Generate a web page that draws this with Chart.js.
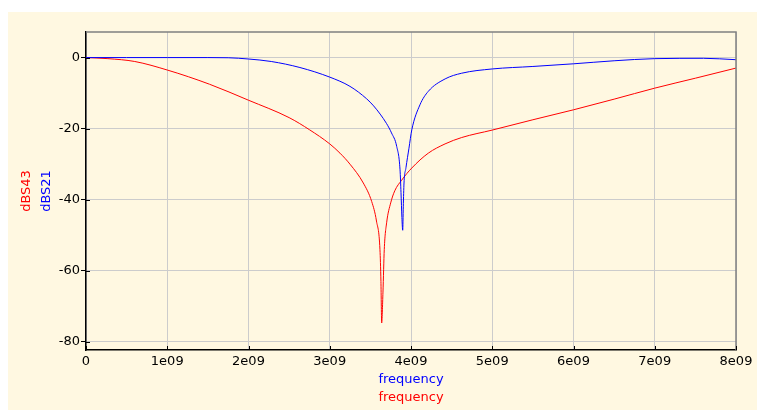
<!DOCTYPE html>
<html>
<head>
<meta charset="utf-8">
<script src="https://cdn.jsdelivr.net/npm/chart.js@4"></script>
<style>
    body { margin: 0; background: #ffffff; }
    #panel { position: absolute; left: 8px; top: 12px; width: 749px; height: 398px; background: #fff8e1; }
</style>
</head>
<body>
<div id="panel"><canvas id="myChart" width="749" height="398"></canvas></div>
<script>
// values, frequency in Hz, level in dB
const freqS21 = [0, 0.5e9, 1.0e9, 1.5e9, 1.75e9, 2.0e9, 2.28e9, 2.633e9, 3.0e9, 3.249e9, 3.454e9, 3.54e9,
    3.62e9, 3.70e9, 3.76e9, 3.824e9, 3.865e9, 3.877e9, 3.888e9, 3.898e9, 3.905e9, 3.914e9, 3.938e9, 3.975e9,
    4.01e9, 4.11e9, 4.213e9, 4.42e9, 4.624e9, 5.0e9, 5.5e9, 6.0e9, 6.5e9, 7.0e9, 7.6e9, 8.0e9];
const dbS21 = [0, 0, 0, 0, -0.05, -0.4, -1.1, -2.8, -5.5, -8.1, -11.6, -13.6,
    -15.9, -18.6, -21.2, -25.0, -31.6, -38.0, -45.0, -48.6, -42.0, -35.3, -31.0, -25.5,
    -20.3, -13.3, -9.5, -6.0, -4.4, -3.2, -2.5, -1.75, -0.9, -0.3, -0.2, -0.6];

const freqS43 = [0, 0.27e9, 0.6e9, 1.0e9, 1.52e9, 2.0e9, 2.5e9, 2.75e9, 3.0e9, 3.126e9, 3.249e9, 3.413e9,
    3.516e9, 3.575e9, 3.618e9, 3.630e9, 3.639e9, 3.655e9, 3.671e9, 3.70e9, 3.75e9, 3.80e9, 3.885e9,
    4.009e9, 4.213e9, 4.419e9, 4.624e9, 5.0e9, 5.5e9, 6.0e9, 6.5e9, 7.0e9, 7.5e9, 8.0e9];
const dbS43 = [0, -0.3, -1.1, -3.5, -7.5, -12.0, -16.9, -20.3, -24.3, -26.9, -30.0, -35.3,
    -40.5, -46.0, -54.1, -63.0, -74.7, -66.0, -54.0, -46.5, -40.9, -37.5, -34.5,
    -31.1, -26.9, -24.3, -22.5, -20.4, -17.5, -14.7, -11.7, -8.6, -5.8, -2.95];

const xTicks = [0, 1e9, 2e9, 3e9, 4e9, 5e9, 6e9, 7e9, 8e9];
const xTickLabels = ['0', '1e09', '2e09', '3e09', '4e09', '5e09', '6e09', '7e09', '8e09'];
const yTicks = [0, -20, -40, -60, -80];

const blue = '#0000ff';
const red = '#ff0000';
const font = { family: 'DejaVu Sans', size: 13 };

function toPoints(xs, ys) {
    let pts = [];
    for (let i = 0; i < xs.length; i++) {
        pts.push({ x: xs[i], y: ys[i] });
    }
    return pts;
}

const framePlugin = {
    id: 'frame',
    afterDraw(chart) {
        const ctx = chart.ctx;
        const a = chart.chartArea;
        const xs = chart.scales.x;
        const ys = chart.scales.y;
        ctx.save();
        // grey top and right edges
        ctx.strokeStyle = '#808080';
        ctx.lineWidth = 1.5;
        ctx.beginPath();
        ctx.moveTo(a.left, a.top);
        ctx.lineTo(a.right, a.top);
        ctx.lineTo(a.right, a.bottom);
        ctx.stroke();
        // small inner ticks
        ctx.strokeStyle = '#000000';
        ctx.lineWidth = 1;
        ctx.beginPath();
        xTicks.forEach(function (v) {
            const px = Math.round(xs.getPixelForValue(v)) + 0.5;
            ctx.moveTo(px, a.bottom);
            ctx.lineTo(px, a.bottom - 4);
        });
        yTicks.forEach(function (v) {
            const py = Math.round(ys.getPixelForValue(v)) + 0.5;
            ctx.moveTo(a.left, py);
            ctx.lineTo(a.left + 4, py);
        });
        ctx.stroke();
        // axis titles, one per curve
        ctx.font = '13px "DejaVu Sans"';
        ctx.textAlign = 'center';
        ctx.textBaseline = 'middle';
        const cx = (a.left + a.right) / 2;
        ctx.fillStyle = blue;
        ctx.fillText('frequency', cx, a.bottom + 30);
        ctx.fillStyle = red;
        ctx.fillText('frequency', cx, a.bottom + 48);
        const cy = (a.top + a.bottom) / 2;
        ctx.translate(0, cy);
        ctx.rotate(-Math.PI / 2);
        ctx.fillStyle = red;
        ctx.fillText('dBS43', 0, 19);
        ctx.fillStyle = blue;
        ctx.fillText('dBS21', 0, 38.5);
        ctx.restore();
    }
};

const data = {
    datasets: [
        {
            label: 'dBS21',
            data: toPoints(freqS21, dbS21),
            borderColor: blue,
            borderWidth: 1,
            pointRadius: 0,
            cubicInterpolationMode: 'monotone'
        },
        {
            label: 'dBS43',
            data: toPoints(freqS43, dbS43),
            borderColor: red,
            borderWidth: 1,
            pointRadius: 0,
            cubicInterpolationMode: 'monotone'
        }
    ]
};

const config = {
    type: 'line',
    data: data,
    options: {
        responsive: false,
        animation: false,
        devicePixelRatio: 1,
        layout: { padding: { left: 0, right: 21, top: 20, bottom: 0 } },
        plugins: {
            legend: { display: false },
            tooltip: { enabled: false }
        },
        scales: {
            x: {
                type: 'linear',
                min: 0,
                max: 8e9,
                afterBuildTicks: function (scale) {
                    scale.ticks = xTicks.map(function (v) { return { value: v }; });
                },
                afterFit: function (scale) { scale.height = 60; },
                ticks: {
                    font: font,
                    color: '#000000',
                    padding: 4,
                    maxRotation: 0,
                    callback: function (value) {
                        const i = xTicks.indexOf(value);
                        return i >= 0 ? xTickLabels[i] : '';
                    }
                },
                grid: { color: '#cccccc', drawTicks: false },
                border: { color: '#000000', width: 1.5 }
            },
            y: {
                type: 'linear',
                min: -82.3,
                max: 7.2,
                afterBuildTicks: function (scale) {
                    scale.ticks = yTicks.map(function (v) { return { value: v }; });
                },
                afterFit: function (scale) { scale.width = 78; },
                ticks: { font: font, color: '#000000', padding: 1 },
                grid: { color: '#cccccc', tickColor: '#000000', tickLength: 5 },
                border: { color: '#000000', width: 1.5 }
            }
        }
    },
    plugins: [framePlugin]
};

window.mychart = new Chart(document.getElementById('myChart'), config);
</script>
</body>
</html>
